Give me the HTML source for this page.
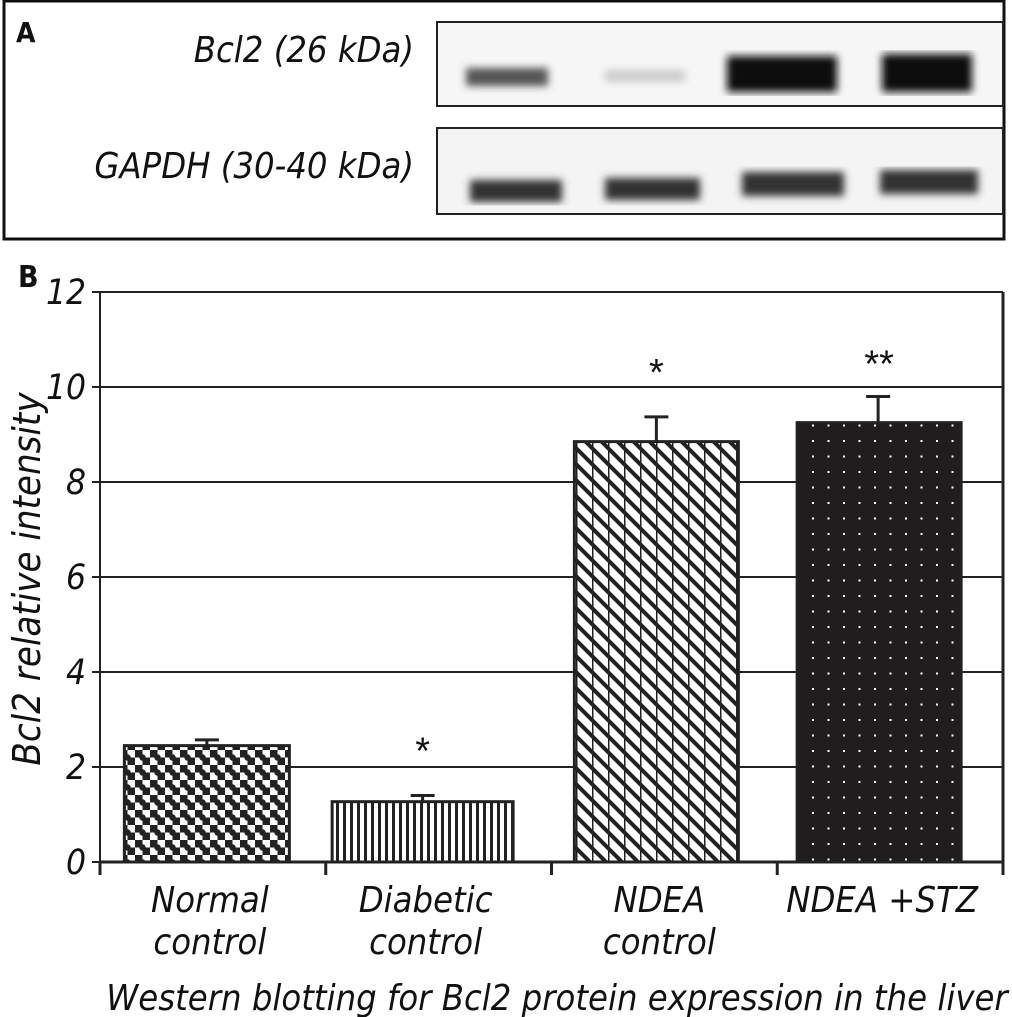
<!DOCTYPE html>
<html><head><meta charset="utf-8"><style>
html,body{margin:0;padding:0;background:#fff;}
svg{display:block;font-family:"DejaVu Sans Condensed","Liberation Sans",sans-serif;}
</style></head><body>
<svg id="fig" width="1012" height="1017" viewBox="0 0 1012 1017">
<defs>
 <pattern id="pChecker" width="15" height="15" patternUnits="userSpaceOnUse">
  <rect width="15" height="15" fill="#fff"/>
  <rect width="7.5" height="7.5" fill="#222"/><rect x="7.5" y="7.5" width="7.5" height="7.5" fill="#222"/>
  <circle cx="7.5" cy="7.5" r="3.2" fill="#222"/>
 </pattern>
 <pattern id="pVert" width="7" height="10" patternUnits="userSpaceOnUse">
  <rect width="7" height="10" fill="#fff"/><rect x="0" width="3" height="10" fill="#222"/>
 </pattern>
 <pattern id="pDiag" width="16" height="16" patternUnits="userSpaceOnUse">
  <rect width="16" height="16" fill="#fff"/>
  <path d="M-4,-4 L20,20 M-4,12 L4,20 M12,-4 L20,4" stroke="#222" stroke-width="4"/>
  <rect x="0" width="1.5" height="16" fill="#222"/>
 </pattern>
 <pattern id="pDots" width="15.5" height="15.5" patternUnits="userSpaceOnUse">
  <rect width="15.5" height="15.5" fill="#201d1e"/><rect x="6" y="6" width="2" height="2" fill="#fff"/>
 </pattern>
 <filter id="blur"><feGaussianBlur stdDeviation="4"/></filter>
</defs>

<g>
 <rect x="4" y="1" width="1000" height="238" fill="none" stroke="#111" stroke-width="3"/>
 <text x="16" y="42" font-size="28" font-weight="bold" fill="#111">A</text>
 <text x="414" y="62" text-anchor="end" font-size="36" font-style="italic" fill="#111">Bcl2 (26 kDa)</text>
 <text x="414" y="178" text-anchor="end" font-size="36" font-style="italic" fill="#111">GAPDH (30-40 kDa)</text>
 <rect x="437" y="22" width="566" height="84" fill="#f6f6f6" stroke="#222" stroke-width="2"/>
 <g filter="url(#blur)">
  <rect x="466" y="68" width="82" height="18" fill="#555"/>
  <rect x="605" y="70" width="80" height="12" fill="#ccc"/>
  <rect x="727" y="56" width="110" height="36" fill="#111"/>
  <rect x="882" y="54" width="90" height="38" fill="#111"/>
 </g>
 <rect x="437" y="128" width="566" height="86" fill="#f4f4f4" stroke="#222" stroke-width="2"/>
 <g filter="url(#blur)">
  <rect x="470" y="180" width="92" height="22" fill="#333"/>
  <rect x="605" y="178" width="95" height="22" fill="#333"/>
  <rect x="742" y="172" width="102" height="24" fill="#333"/>
  <rect x="880" y="170" width="98" height="24" fill="#333"/>
 </g>
</g>

<text x="18" y="287" font-size="30" font-weight="bold" fill="#111">B</text>
<g id="chart"></g>
</svg>
<script>
const categories = [["Normal","control"],["Diabetic","control"],["NDEA","control"],["NDEA +STZ"]];
const values = [2.45, 1.27, 8.85, 9.25];
const errors = [0.12, 0.13, 0.52, 0.55];
const sigMarks = ["", "*", "*", "**"];
const yTicks = [0,2,4,6,8,10,12];
const fills = ["url(#pChecker)","url(#pVert)","url(#pDiag)","url(#pDots)"];

const NS="http://www.w3.org/2000/svg";
const g=document.getElementById('chart');
const X0=100, X1=1003, Y0=862, YT=292, YMAX=12;
const y=v=>Y0-(v/YMAX)*(Y0-YT);
const band=(X1-X0)/categories.length;
const barOffset=[-6,-16,-8,-11];
const barWidths=[165,181,164,164];
const cx=i=>X0+band*(i+0.5);
function el(tag,attrs,parent){const e=document.createElementNS(NS,tag);for(const k in attrs)e.setAttribute(k,attrs[k]);(parent||g).appendChild(e);return e;}

yTicks.forEach(t=>{
 if(t>0){const l=el('line',{x1:X0,x2:X1,y1:y(t),y2:y(t),stroke:'#222','stroke-width':2});
 
 }
 const tk=el('line',{x1:X0-8,x2:X0,y1:y(t),y2:y(t),stroke:'#222','stroke-width':2});
 
 
 const tx=el('text',{x:X0-14,y:y(t)+12,'text-anchor':'end','font-size':35,'font-style':'italic',fill:'#111'});
 tx.textContent=t;
 
 
});
const ra=el('line',{x1:X1,x2:X1,y1:YT,y2:Y0,stroke:'#222','stroke-width':3});


const ya=el('line',{x1:X0,x2:X0,y1:YT,y2:Y0,stroke:'#222','stroke-width':2});



values.forEach((v,i)=>{
 const c=cx(i)+barOffset[i], w=barWidths[i];
 const b=el('rect',{x:c-w/2,y:y(v),width:w,height:Y0-y(v),fill:fills[i],stroke:'#222','stroke-width':3});
 
 
 const ex=c+(i===3?-1:0), top=y(v+errors[i]);
 const e1=el('path',{d:`M${ex},${y(v)} V${top} M${ex-12},${top} H${ex+12}`,stroke:'#222','stroke-width':3,fill:'none'});
 
 
 if(sigMarks[i]){const s=el('text',{x:c,y:y(v+errors[i])-(i===3?20:32),'text-anchor':'middle','font-size':38,'font-family':'Liberation Sans, sans-serif',fill:'#111'});
 s.textContent=sigMarks[i];
 
 }
});
const xa=el('line',{x1:X0,x2:X1,y1:Y0,y2:Y0,stroke:'#222','stroke-width':3});


for(let i=0;i<=categories.length;i++){
 const t=el('line',{x1:X0+band*i,x2:X0+band*i,y1:Y0,y2:Y0+13,stroke:'#222','stroke-width':3});
 
 
}
categories.forEach((c,i)=>{
 c.forEach((line,j)=>{
  const t=el('text',{x:cx(i)+barOffset[i]+3,y:912+j*42,'text-anchor':'middle','font-size':36,'font-style':'italic',fill:'#111'});
  t.textContent=line;
  
  
 });
});
const yt=el('text',{x:0,y:0,transform:'translate(40,579) rotate(-90)','text-anchor':'middle','font-size':38,'font-style':'italic',fill:'#111'});
yt.textContent='Bcl2 relative intensity';


const xt=el('text',{x:557,y:1010,'text-anchor':'middle','font-size':36,'font-style':'italic',fill:'#111'});
xt.textContent='Western blotting for Bcl2 protein expression in the liver';


</script>
</body></html>
